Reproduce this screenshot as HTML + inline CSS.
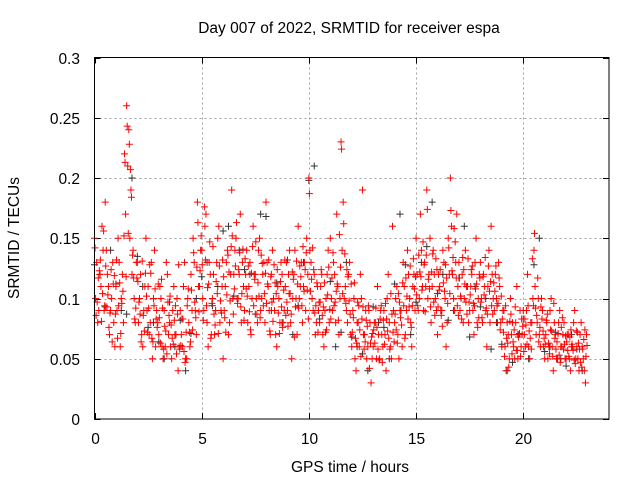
<!DOCTYPE html>
<html><head><meta charset="utf-8"><style>
body{margin:0;background:#fff;}
svg{display:block;font-family:"Liberation Sans",sans-serif;}
</style></head><body>
<svg id="chart" width="640" height="480" viewBox="0 0 640 480">
<text x="349" y="33" font-size="15.5" text-anchor="middle">Day 007 of 2022, SRMTID for receiver espa</text>
<text x="350" y="472" font-size="15.5" text-anchor="middle">GPS time / hours</text>
<text x="19" y="238" font-size="15.5" text-anchor="middle" transform="rotate(-90 19 238)">SRMTID / TECUs</text>
<g id="grid"></g><g id="ticks"></g><g id="pts"></g>
<rect x="94.5" y="57.5" width="514.5" height="361.5" fill="none" stroke="#000" stroke-width="1"/>
</svg>
<script>
const xTicks=[0,5,10,15,20];
const yTicks=[0,0.05,0.1,0.15,0.2,0.25,0.3];
const yTickLabels=["0","0.05","0.1","0.15","0.2","0.25","0.3"];
const redStep=0.1;
const red1=[0.15,0.13,0.09,0.11,0.14,0.18,0.12,0.07,0.10,0.08,0.11,0.15,0.06,0.12,0.22,0.26,0.24,0.19,0.14,0.08,
0.13,0.10,0.07,0.09,0.15,0.11,0.08,0.05,0.14,0.09,0.07,0.10,0.05,0.06,0.12,0.08,0.05,0.11,0.07,0.04,
0.09,0.06,0.13,0.05,0.08,0.12,0.15,0.09,0.18,0.11,0.14,0.09,0.17,0.06,0.12,0.10,0.07,0.13,0.16,0.09,
0.05,0.11,0.14,0.08,0.19,0.12,0.15,0.10,0.17,0.13,0.09,0.14,0.11,0.07,0.16,0.12,0.08,0.15,0.10,0.13,
0.18,0.11,0.07,0.14,0.09,0.06,0.10,0.13,0.08,0.11,0.09,0.14,0.05,0.12,0.10,0.16,0.11,0.08,0.13,0.15,
0.20,0.13,0.09,0.07,0.11,0.08,0.12,0.06,0.10,0.14,0.15,0.09,0.12,0.17,0.07,0.23,0.18,0.11,0.08,0.13,
0.06,0.10,0.04,0.08,0.12,0.19,0.07,0.05,0.09,0.03,0.06,0.08,0.11,0.05,0.07,0.09,0.04,0.12,0.06,0.16,
0.08,0.11,0.05,0.09,0.13,0.07,0.14,0.10,0.06,0.12,0.15,0.09,0.17,0.11,0.13,0.19,0.12,0.08,0.14,0.10,
0.07,0.11,0.09,0.13,0.06,0.15,0.20,0.12,0.09,0.17,0.13,0.10,0.08,0.14,0.11,0.09,0.12,0.07,0.15,0.10,
0.13,0.08,0.11,0.06,0.14,0.16,0.10,0.12,0.08,0.11,0.06,0.09,0.04,0.07,0.10,0.08,0.05,0.11,0.07,0.06,
0.09,0.06,0.12,0.05,0.08,0.14,0.07,0.10,0.06,0.09,0.05,0.08,0.06,0.10,0.04,0.07,0.05,0.09,0.06,0.08,
0.05,0.07,0.04,0.06,0.09,0.06,0.04,0.08,0.05,0.03];
const red2=[0.10,0.08,0.12,0.16,0.09,0.14,0.11,0.09,0.13,0.06,0.09,0.13,0.10,0.08,0.17,0.21,0.15,0.12,0.10,0.13,
0.08,0.12,0.06,0.11,0.09,0.07,0.13,0.10,0.06,0.08,0.11,0.06,0.09,0.13,0.07,0.06,0.09,0.07,0.10,0.06,
0.07,0.11,0.05,0.10,0.06,0.09,0.13,0.07,0.11,0.14,0.10,0.16,0.08,0.13,0.07,0.12,0.09,0.15,0.08,0.11,
0.09,0.13,0.07,0.12,0.10,0.14,0.10,0.12,0.08,0.11,0.12,0.08,0.13,0.10,0.12,0.10,0.14,0.09,0.12,0.08,
0.13,0.09,0.12,0.10,0.07,0.11,0.08,0.12,0.09,0.13,0.12,0.08,0.10,0.14,0.07,0.10,0.13,0.11,0.09,0.12,
0.14,0.10,0.12,0.08,0.09,0.11,0.07,0.09,0.12,0.08,0.10,0.13,0.08,0.11,0.10,0.14,0.10,0.09,0.12,0.07,
0.09,0.05,0.08,0.06,0.10,0.07,0.09,0.06,0.08,0.05,0.08,0.05,0.07,0.09,0.06,0.07,0.10,0.08,0.05,0.09,
0.10,0.07,0.09,0.06,0.11,0.09,0.12,0.08,0.11,0.09,0.12,0.10,0.14,0.09,0.11,0.10,0.15,0.11,0.12,0.09,
0.12,0.09,0.14,0.10,0.08,0.12,0.16,0.10,0.13,0.11,0.09,0.12,0.10,0.11,0.08,0.11,0.09,0.13,0.08,0.12,
0.10,0.12,0.09,0.11,0.08,0.12,0.09,0.10,0.13,0.08,0.09,0.06,0.08,0.05,0.07,0.06,0.08,0.05,0.09,0.07,
0.07,0.09,0.06,0.08,0.10,0.11,0.08,0.07,0.10,0.06,0.07,0.05,0.09,0.06,0.08,0.05,0.08,0.06,0.07,0.05,
0.07,0.05,0.06,0.08,0.05,0.05,0.07,0.06,0.04,0.07];
const red3=[.142,.097,.123,.081,.156,.127,.103,.088,.064,.119,.132,.094,.071,.106,.213,.243,.228,.184,.117,.092,
.114,.087,.131,.073,.102,.092,.121,.064,.108,.076,.084,.116,.058,.073,.097,.102,.067,.082,.054,.128,
.061,.083,.047,.094,.072,.107,.138,.084,.163,.123,.128,.176,.094,.112,.067,.143,.078,.104,.127,.088,
.118,.072,.136,.098,.152,.108,.163,.124,.093,.141,.133,.102,.089,.121,.094,.147,.113,.084,.129,.104,
.096,.132,.118,.081,.113,.124,.071,.093,.107,.086,.077,.104,.122,.068,.131,.092,.118,.143,.124,.107,
.187,.116,.124,.094,.072,.097,.086,.113,.074,.126,.083,.138,.097,.112,.153,.224,.162,.096,.118,.087,
.072,.113,.063,.094,.052,.093,.064,.077,.042,.068,.074,.092,.058,.083,.047,.062,.083,.067,.104,.072,
.087,.063,.097,.078,.094,.117,.083,.127,.094,.108,.103,.136,.118,.147,.089,.174,.108,.122,.097,.133,
.093,.124,.077,.106,.117,.142,.173,.134,.147,.094,.117,.083,.124,.097,.133,.103,.127,.094,.112,.084,
.097,.118,.134,.087,.106,.094,.113,.127,.096,.074,.083,.052,.067,.043,.087,.064,.093,.057,.071,.083,
.056,.078,.094,.067,.133,.154,.086,.064,.093,.073,.062,.087,.054,.073,.096,.058,.071,.047,.084,.062,
.064,.052,.074,.057,.046,.072,.058,.043,.066,.052];
const red4=[.086,.117,.132,.104,.094,.093,.076,.124,.112,.087,.067,.113,.096,.152,.118,.154,.207,.136,.083,.117,
.097,.064,.086,.121,.072,.128,.067,.094,.083,.112,.063,.092,.077,.054,.086,.078,.062,.094,.087,.058,
.083,.056,.072,.108,.064,.074,.097,.126,.089,.152,.082,.132,.109,.147,.096,.087,.114,.071,.098,.132,
.084,.103,.122,.143,.087,.127,.096,.138,.104,.082,.108,.127,.074,.143,.116,.087,.102,.136,.094,.121,
.112,.073,.097,.128,.104,.088,.114,.076,.132,.097,.104,.087,.116,.093,.112,.127,.094,.106,.138,.083,
.106,.142,.088,.113,.097,.124,.093,.072,.103,.091,.117,.094,.106,.082,.126,.104,.137,.124,.098,.112,
.084,.067,.097,.074,.083,.058,.082,.094,.063,.071,.063,.076,.049,.094,.082,.096,.073,.058,.087,.064,
.074,.104,.084,.113,.067,.102,.093,.076,.133,.118,.094,.122,.107,.128,.136,.116,.093,.137,.086,.124,
.107,.086,.113,.128,.096,.104,.123,.158,.117,.086,.102,.134,.112,.087,.097,.124,.096,.108,.076,.117,
.084,.103,.092,.127,.114,.087,.106,.094,.117,.102,.072,.094,.063,.081,.054,.074,.057,.068,.052,.077,
.083,.062,.073,.058,.094,.092,.117,.076,.083,.067,.082,.063,.074,.052,.067,.064,.053,.076,.058,.069,
.057,.068,.062,.049,.073,.063,.047,.058,.074,.061];
const blackStep=0.5;
const black=[0.12,0.14,0.09,0.20,0.11,0.08,0.05,0.06,0.04,0.10,0.13,0.11,0.16,0.14,0.12,0.17,0.09,0.08,0.07,0.13,
0.21,0.09,0.06,0.13,0.06,0.04,0.08,0.05,0.17,0.07,0.13,0.18,0.12,0.09,0.16,0.11,0.10,0.08,0.04,0.07,
0.05,0.15,0.06,0.05,0.07,0.04];
const black2=[.128,.093,.112,.087,.135,.076,.064,.097,.082,.071,.118,.094,.156,.102,.124,.087,.168,.113,.132,.094,
.198,.083,.114,.072,.068,.054,.093,.076,.112,.128,.097,.143,.104,.082,.117,.068,.093,.058,.062,.047,
.083,.128,.056,.072,.044,.058];
const X0=94.5,X1=609,Y0=419,Y1=57.5,XMAX=24,YMAX=0.3;
const xs=v=>X0+(X1-X0)*v/XMAX;
const ys=v=>Y0-(Y0-Y1)*v/YMAX;
const NS='http://www.w3.org/2000/svg';
const grid=document.getElementById('grid'),ticks=document.getElementById('ticks'),pts=document.getElementById('pts');
function mk(tag,attrs,parent){const e=document.createElementNS(NS,tag);for(const k in attrs)e.setAttribute(k,attrs[k]);parent.appendChild(e);return e;}
xTicks.forEach(t=>{const x=Math.round(xs(t))+0.5;
 if(t>0){const g=mk('line',{x1:x,x2:x,y1:Y1,y2:Y0,stroke:'#a0a0a0','stroke-dasharray':'2,3'},grid);
 
 }
 const tk=mk('path',{d:`M${x} ${Y0}v-6M${x} ${Y1}v6`,stroke:'#000'},ticks);
 
 
 const l=mk('text',{x:x,y:444,'font-size':15.5,'text-anchor':'middle'},ticks);l.textContent=t;
 
 });
yTicks.forEach((t,i)=>{const y=Math.round(ys(t))+0.5;
 if(t>0&&t<YMAX){const g=mk('line',{x1:X0,x2:X1,y1:y,y2:y,stroke:'#a0a0a0','stroke-dasharray':'2,3'},grid);
 
 }
 const tk=mk('path',{d:`M${X0} ${y}h6M${X1} ${y}h-6`,stroke:'#000'},ticks);
 
 
 const l=mk('text',{x:80,y:y+5.5,'font-size':15.5,'text-anchor':'end'},ticks);l.textContent=yTickLabels[i];
 
 });
function plus(t,v,color,name){const x=xs(t),y=ys(v);
 const p=mk('path',{d:`M${x-3.5} ${y}h7M${x} ${y-3.5}v7`,stroke:color,'stroke-width':1},pts);
 
 }
black.forEach((v,i)=>plus(0.25+i*blackStep,v,'#333','black-point'));
black2.forEach((v,i)=>plus(0.0+i*blackStep,v,'#333','black-point'));
red1.forEach((v,i)=>plus(0.0+i*redStep,v,'#f00','red-point'));
red2.forEach((v,i)=>plus(0.05+i*redStep,v,'#f00','red-point'));
red3.forEach((v,i)=>plus(0.025+i*redStep,v,'#f00','red-point'));
red4.forEach((v,i)=>plus(0.075+i*redStep,v,'#f00','red-point'));
</script>
</body></html>
